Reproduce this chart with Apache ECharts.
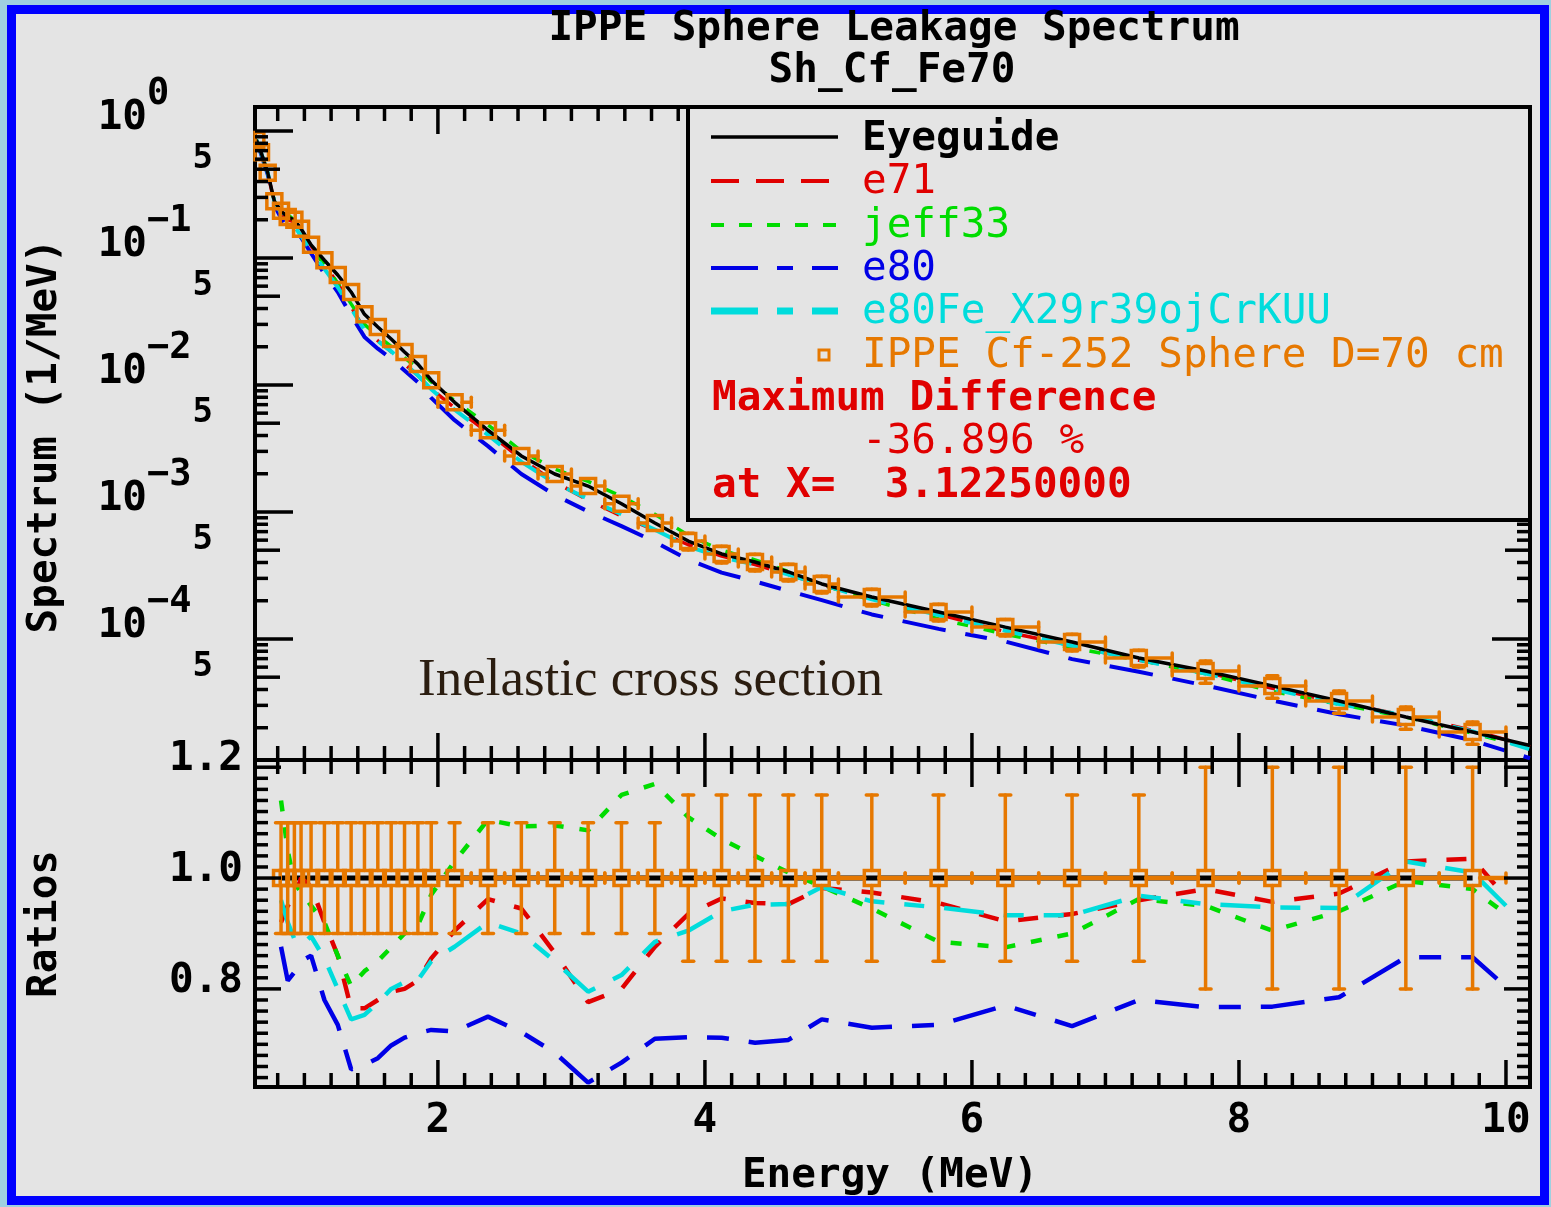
<!DOCTYPE html>
<html>
<head>
<meta charset="utf-8">
<script src="https://cdn.jsdelivr.net/npm/echarts@6/dist/echarts.min.js"></script>
<style>
html,body{margin:0;padding:0;width:1551px;height:1207px;overflow:hidden;background:#9fd0e0;}
#frame{position:absolute;left:7px;top:5px;width:1524px;height:1182px;border:9px solid #0000ff;background:#e4e4e4;}
#c{position:absolute;left:0;top:0;width:1551px;height:1207px;}
</style>
</head>
<body>
<div id="frame"></div>
<div id="c"></div>
<script>
// ---------------- data ----------------
// experimental points (IPPE Cf-252 Sphere D=70 cm)
const expE = [0.64, 0.675, 0.725, 0.775, 0.825, 0.875, 0.925, 0.975,
  1.05, 1.15, 1.25, 1.35, 1.45, 1.55, 1.65, 1.75, 1.85, 1.95,
  2.125, 2.375, 2.625, 2.875, 3.125, 3.375, 3.625, 3.875, 4.125, 4.375, 4.625, 4.875,
  5.25, 5.75, 6.25, 6.75, 7.25, 7.75, 8.25, 8.75, 9.25, 9.75];
const expV = [0.85, 0.68, 0.47, 0.28, 0.235, 0.21, 0.20, 0.17,
  0.127, 0.096, 0.0735, 0.054, 0.036, 0.0286, 0.023, 0.0182, 0.0146, 0.0109,
  0.0073, 0.0044, 0.00276, 0.00199, 0.0016, 0.00116, 0.00082, 0.00059, 0.000467, 0.000404, 0.000337, 0.000271,
  0.000214, 0.000163, 0.000124, 9.47e-5, 7.08e-5, 5.6e-5, 4.27e-5, 3.25e-5, 2.43e-5, 1.85e-5];
const expErr = [0.10, 0.10, 0.10, 0.10, 0.10, 0.10, 0.10, 0.10,
  0.10, 0.10, 0.10, 0.10, 0.10, 0.10, 0.10, 0.10, 0.10, 0.10,
  0.10, 0.10, 0.10, 0.10, 0.10, 0.10, 0.10, 0.15, 0.15, 0.15, 0.15, 0.15,
  0.15, 0.15, 0.15, 0.15, 0.15, 0.20, 0.20, 0.20, 0.20, 0.20];
const expHalfW = [0.025, 0.025, 0.025, 0.025, 0.025, 0.025, 0.025, 0.025,
  0.05, 0.05, 0.05, 0.05, 0.05, 0.05, 0.05, 0.05, 0.05, 0.05,
  0.125, 0.125, 0.125, 0.125, 0.125, 0.125, 0.125, 0.125, 0.125, 0.125, 0.125, 0.125,
  0.25, 0.25, 0.25, 0.25, 0.25, 0.25, 0.25, 0.25, 0.25, 0.25];

// calculated spectra (upper panel)
const topE = [0.64, 0.675, 0.725, 0.775, 0.825, 0.875, 0.925, 0.975,
  1.05, 1.15, 1.25, 1.35, 1.45, 1.55, 1.65, 1.75, 1.85, 1.95,
  2.125, 2.375, 2.625, 2.875, 3.125, 3.375, 3.625, 3.875, 4.125, 4.375, 4.625, 4.875,
  5.25, 5.75, 6.25, 6.75, 7.25, 7.75, 8.25, 8.75, 9.25, 9.75, 10.18];
const eyeguideTop = [0.85, 0.68, 0.47, 0.28, 0.235, 0.21, 0.20, 0.17,
  0.127, 0.096, 0.0735, 0.054, 0.036, 0.0286, 0.023, 0.0182, 0.0146, 0.0109,
  0.0073, 0.0044, 0.00276, 0.00199, 0.0016, 0.00116, 0.00082, 0.00059, 0.000467, 0.000404, 0.000337, 0.000271,
  0.000214, 0.000163, 0.000124, 9.47e-5, 7.08e-5, 5.6e-5, 4.27e-5, 3.25e-5, 2.43e-5, 1.85e-5, 1.45e-5];
const e71Top = [0.85, 0.68, 0.47, 0.27, 0.216, 0.200, 0.193, 0.170,
  0.125, 0.0883, 0.0632, 0.0413, 0.0275, 0.0223, 0.0183, 0.01456, 0.0119, 0.00932,
  0.00661, 0.00423, 0.00261, 0.00172, 0.00124, 0.000928, 0.000718, 0.000552, 0.000450, 0.000386, 0.000321, 0.000266,
  0.000208, 0.000156, 0.000114, 8.85e-5, 6.80e-5, 5.49e-5, 4.09e-5, 3.16e-5, 2.50e-5, 1.91e-5, 1.42e-5];
const jeff33Top = [0.85, 0.68, 0.47, 0.28, 0.268, 0.220, 0.198, 0.166,
  0.121, 0.0883, 0.0632, 0.0435, 0.0300, 0.0243, 0.0201, 0.0164, 0.0134, 0.01057,
  0.00752, 0.00486, 0.00302, 0.00218, 0.00174, 0.00133, 0.000959, 0.000655, 0.000500, 0.000420, 0.000340, 0.000267,
  0.000202, 0.000144, 0.000109, 8.52e-5, 6.81e-5, 5.32e-5, 3.86e-5, 3.06e-5, 2.42e-5, 1.81e-5, 1.38e-5];
const e80Top = [0.83, 0.66, 0.455, 0.26, 0.206, 0.171, 0.166, 0.145,
  0.109, 0.0749, 0.0540, 0.0354, 0.0239, 0.0193, 0.0161, 0.0130, 0.0105, 0.00791,
  0.00528, 0.00330, 0.00199, 0.00136, 0.00101, 0.000774, 0.000582, 0.000421, 0.000333, 0.000284, 0.000239, 0.000202,
  0.000156, 0.000120, 9.55e-5, 6.94e-5, 5.52e-5, 4.30e-5, 3.28e-5, 2.55e-5, 2.08e-5, 1.59e-5, 1.15e-5];
const e80FeTop = [0.85, 0.68, 0.47, 0.28, 0.226, 0.193, 0.178, 0.149,
  0.114, 0.0821, 0.0588, 0.0402, 0.0271, 0.0222, 0.0184, 0.0148, 0.0119, 0.00927,
  0.00639, 0.00405, 0.00248, 0.00169, 0.00127, 0.000957, 0.000726, 0.000534, 0.000439, 0.000385, 0.000321, 0.000267,
  0.000205, 0.000154, 0.000116, 8.84e-5, 6.85e-5, 5.34e-5, 4.04e-5, 3.07e-5, 2.50e-5, 1.87e-5, 1.35e-5];

// ratios C/E (lower panel)
const ratioE = [0.825, 0.875, 0.925, 0.975,
  1.05, 1.15, 1.25, 1.35, 1.45, 1.55, 1.65, 1.75, 1.85, 1.95,
  2.125, 2.375, 2.625, 2.875, 3.125, 3.375, 3.625, 3.875, 4.125, 4.375, 4.625, 4.875,
  5.25, 5.75, 6.25, 6.75, 7.25, 7.75, 8.25, 8.75, 9.25, 9.75, 10.0];
const e71Ratio = [0.92, 0.95, 0.965, 1.0,
  0.985, 0.92, 0.86, 0.765, 0.765, 0.78, 0.795, 0.80, 0.815, 0.855,
  0.905, 0.962, 0.945, 0.865, 0.776, 0.80, 0.876, 0.935, 0.963, 0.955, 0.953, 0.982,
  0.974, 0.955, 0.922, 0.935, 0.96, 0.98, 0.957, 0.972, 1.03, 1.035, 0.965];
const jeff33Ratio = [1.14, 1.05, 0.99, 0.975,
  0.95, 0.92, 0.86, 0.805, 0.832, 0.85, 0.875, 0.90, 0.915, 0.97,
  1.03, 1.105, 1.093, 1.095, 1.086, 1.15, 1.17, 1.11, 1.07, 1.04, 1.01, 0.985,
  0.945, 0.885, 0.875, 0.90, 0.962, 0.95, 0.905, 0.94, 0.995, 0.98, 0.935];
const e80Ratio = [0.876, 0.815, 0.83, 0.85,
  0.86, 0.78, 0.735, 0.655, 0.663, 0.675, 0.698, 0.712, 0.72, 0.726,
  0.723, 0.75, 0.722, 0.685, 0.631, 0.667, 0.71, 0.713, 0.712, 0.703, 0.708, 0.745,
  0.73, 0.735, 0.77, 0.733, 0.78, 0.767, 0.768, 0.785, 0.857, 0.857, 0.804];
const e80FeRatio = [0.96, 0.92, 0.89, 0.878,
  0.895, 0.855, 0.80, 0.745, 0.753, 0.775, 0.80, 0.812, 0.816, 0.85,
  0.876, 0.92, 0.90, 0.85, 0.795, 0.825, 0.885, 0.905, 0.94, 0.952, 0.953, 0.984,
  0.958, 0.947, 0.933, 0.933, 0.968, 0.953, 0.947, 0.946, 1.03, 1.01, 0.95];
const ratioMinE = 0.8; // ratios shown from this energy on

// axis ticks / labels
const xMajor = [2, 4, 6, 8, 10];
const xMajorLabels = ['2', '4', '6', '8', '10'];
const yTopDecades = [1e-4, 1e-3, 1e-2, 1e-1, 1];
const yTopDecadeExp = ['\u22124', '\u22123', '\u22122', '\u22121', '0'];
const yTopFives = [5e-5, 5e-4, 5e-3, 5e-2, 5e-1];
const yTopFiveLabel = '5';
const yBotMajor = [0.8, 1.0, 1.2];
const yBotMajorLabels = ['0.8', '1.0', '1.2'];

// axis ranges
const X_MIN = 0.63, X_MAX = 10.18;
const YT_MIN = 1.114e-5, YT_MAX = 1.545;
const YB_MIN = 0.623, YB_MAX = 1.213;

// ---------------- styles ----------------
const ORANGE = '#e67800', RED = '#e00000', GREEN = '#00dc00', BLUE = '#0000e6', CYAN = '#00dcdc';
const MONO = '"DejaVu Sans Mono", "Liberation Mono", monospace';

// minor tick positions
const xMinor = [];
for (let k = 4; k <= 50; k++) { if (k % 10 !== 0) xMinor.push(+(k / 5).toFixed(1)); }
const yTopMinor = [];
for (let n = -5; n <= -1; n++) {
  for (let k = 2; k <= 9; k++) {
    if (k === 5) continue;
    const v = +(k * Math.pow(10, n)).toPrecision(3);
    if (v >= YT_MIN && v <= YT_MAX) yTopMinor.push(v);
  }
}
const yBotMinor = [];
for (let k = 32; k <= 60; k++) { if (k % 10 !== 0) yBotMinor.push(+(k / 50).toFixed(2)); }

function tl(x1, y1, x2, y2) {
  return { type: 'line', shape: { x1, y1, x2, y2 }, style: { stroke: '#000', lineWidth: 3.5 } };
}
function tx(t, x, y, align, size, bold) {
  return { type: 'text', style: { text: t, x: x, y: y, fill: '#000',
    font: (bold === false ? '' : 'bold ') + size + 'px ' + MONO,
    textAlign: align, textVerticalAlign: 'middle', align: align, verticalAlign: 'middle' } };
}

const xTickData = xMinor.map(v => [v, 1, 0, -1]).concat(xMajor.map((v, i) => [v, 1, 1, i]));
function xTickSeries(g, withLabels) {
  return {
    type: 'custom', xAxisIndex: g, yAxisIndex: g, z: 6, silent: true, encode: { x: 0, y: 1 },
    data: xTickData,
    renderItem: function (params, api) {
      const cs = params.coordSys;
      const x = api.coord([api.value(0), 1])[0];
      const major = api.value(2) === 1;
      const L = major ? 27 : 14;
      const ch = [tl(x, cs.y, x, cs.y + L), tl(x, cs.y + cs.height - L, x, cs.y + cs.height)];
      if (withLabels && major) ch.push(tx(xMajorLabels[api.value(3)], x, cs.y + cs.height + 34, 'center', 41));
      return { type: 'group', children: ch };
    }
  };
}

const yTopTickData = yTopMinor.map(v => [5, v, 0, -1])
  .concat(yTopFives.map((v, i) => [5, v, 1, i]))
  .concat(yTopDecades.map((v, i) => [5, v, 2, i]));
const yTopTickSeries = {
  type: 'custom', xAxisIndex: 0, yAxisIndex: 0, z: 6, silent: true, encode: { x: 0, y: 1 },
  data: yTopTickData,
  renderItem: function (params, api) {
    const cs = params.coordSys;
    const y = api.coord([5, api.value(1)])[1];
    const kind = api.value(2);
    const L = kind === 2 ? 38 : (kind === 1 ? 25 : 13);
    const ch = [tl(cs.x, y, cs.x + L, y), tl(cs.x + cs.width - L, y, cs.x + cs.width, y)];
    if (kind === 2) {
      ch.push(tx('10', cs.x - 108, y - 13, 'right', 41));
      ch.push(tx(yTopDecadeExp[api.value(3)], cs.x - 108, y - 37, 'left', 37));
    } else if (kind === 1) {
      ch.push(tx(yTopFiveLabel, cs.x - 42, y - 10, 'right', 34));
    }
    return { type: 'group', children: ch };
  }
};

const yBotTickData = yBotMinor.map(v => [5, v, 0, -1]).concat(yBotMajor.map((v, i) => [5, v, 1, i]));
const yBotTickSeries = {
  type: 'custom', xAxisIndex: 1, yAxisIndex: 1, z: 6, silent: true, encode: { x: 0, y: 1 },
  data: yBotTickData,
  renderItem: function (params, api) {
    const cs = params.coordSys;
    const y = api.coord([5, api.value(1)])[1];
    const major = api.value(2) === 1;
    const L = major ? 26 : 13;
    const ch = [tl(cs.x, y, cs.x + L, y), tl(cs.x + cs.width - L, y, cs.x + cs.width, y)];
    if (major) ch.push(tx(yBotMajorLabels[api.value(3)], cs.x - 12, y - 8, 'right', 41));
    return { type: 'group', children: ch };
  }
};

function expRenderer(linear) {
  return function (params, api) {
    const cs = params.coordSys;
    const E = api.value(0), v = api.value(1), er = api.value(2), hw = api.value(3);
    const c = api.coord([E, v]);
    const xl = api.coord([E - hw, v])[0];
    const xr = api.coord([E + hw, v])[0];
    const yt = api.coord([E, linear ? v + er : v * (1 + er)])[1];
    const yb = api.coord([E, linear ? v - er : v * (1 - er)])[1];
    const s = 7.5, hc = 5, vc = 5.5;
    const hwid = linear ? 4.5 : 3.5;
    const ch = [];
    const seg = (x1, y1, x2, y2, w) => ch.push({ type: 'line', shape: { x1, y1, x2, y2 },
      style: { stroke: ORANGE, lineWidth: w || 3.5, lineCap: 'round' } });
    const xlc = Math.max(xl, cs.x), xrc = Math.min(xr, cs.x + cs.width);
    if (xlc < c[0] - s) { seg(xlc, c[1], c[0] - s, c[1], hwid); if (xl >= cs.x) seg(xl, c[1] - hc, xl, c[1] + hc); }
    if (xrc > c[0] + s) { seg(c[0] + s, c[1], xrc, c[1], hwid); if (xr <= cs.x + cs.width) seg(xr, c[1] - hc, xr, c[1] + hc); }
    if (yt < c[1] - s) { seg(c[0], yt, c[0], c[1] - s); seg(c[0] - vc, yt, c[0] + vc, yt); }
    if (yb > c[1] + s) { seg(c[0], c[1] + s, c[0], yb); seg(c[0] - vc, yb, c[0] + vc, yb); }
    const sx = Math.max(c[0] - s, cs.x);
    ch.push({ type: 'rect', shape: { x: sx, y: c[1] - s, width: c[0] + s - sx, height: 2 * s },
      style: { stroke: ORANGE, fill: 'none', lineWidth: 3.5 } });
    return { type: 'group', children: ch };
  };
}

function lineSeries(g, xs, ys, color, width, dash, z) {
  return {
    type: 'line', xAxisIndex: g, yAxisIndex: g, z: z || 2, silent: true,
    data: xs.map((e, i) => [e, ys[i]]), symbol: 'none', showSymbol: false,
    lineStyle: { color: color, width: width, type: dash || 'solid', cap: 'butt' }
  };
}

const DASH_RED = [20, 20], DASH_GREEN = [11, 16], DASH_BLUE = [44, 20, 22, 20], DASH_CYAN = [40, 20, 20, 20, 20, 20];

const expTopData = expE.map((e, i) => [e, expV[i], expErr[i], expHalfW[i]]);
const expRatioData = expE.map((e, i) => [e, 1, expErr[i], expHalfW[i]]).filter(d => d[0] >= ratioMinE);
const eyeRatioE = expE.filter(e => e >= ratioMinE);
const eyeRatio = eyeRatioE.map(() => 1);

// ---------------- legend / text graphics ----------------
function gLine(x1, y1, x2, y2, color, w, dash) {
  return { type: 'line', z: 101, shape: { x1, y1, x2, y2 }, style: { stroke: color, lineWidth: w, lineDash: dash || null } };
}
function gText(t, x, y, color, bold, size, align, family, rot) {
  const fam = family || MONO;
  return { type: 'text', z: 101, x: x, y: y, rotation: rot || 0,
    style: { text: t, x: 0, y: 0, fill: color, font: (bold ? 'bold ' : '') + (size || 41) + 'px ' + fam,
      textAlign: align || 'left', textVerticalAlign: 'middle', align: align || 'left', verticalAlign: 'middle' } };
}

const graphics = [
  { type: 'rect', z: 100, shape: { x: 688, y: 107, width: 842, height: 413 }, style: { fill: '#e4e4e4', stroke: '#000', lineWidth: 4 } },
  gLine(711, 137, 838, 137, '#000', 3.5),
  gText('Eyeguide', 862, 139, '#000', true),
  gLine(711, 181, 838, 181, RED, 4, [28, 17]),
  gText('e71', 862, 182, RED, false),
  gLine(711, 225, 838, 225, GREEN, 4, [13, 15]),
  gText('jeff33', 862, 226, GREEN, false),
  gLine(711, 268, 838, 268, BLUE, 4, [47, 19, 16, 19]),
  gText('e80', 862, 269, BLUE, false),
  gLine(711, 311, 838, 311, CYAN, 7, [47, 19, 16, 19]),
  gText('e80Fe_X29r39ojCrKUU', 862, 312, CYAN, false),
  { type: 'rect', z: 101, shape: { x: 819, y: 350, width: 10, height: 10 }, style: { fill: 'none', stroke: ORANGE, lineWidth: 3 } },
  gText('IPPE Cf-252 Sphere D=70 cm', 862, 356, ORANGE, false),
  gText('Maximum Difference', 712, 399, RED, true),
  gText('-36.896 %', 862, 442, RED, false),
  gText('at X=  3.12250000', 712, 486, RED, true),
  // titles
  gText('IPPE Sphere Leakage Spectrum', 894, 29, '#000', true, 41, 'center'),
  gText('Sh_Cf_Fe70', 892, 71, '#000', true, 41, 'center'),
  gText('Energy (MeV)', 890, 1176, '#000', true, 41, 'center'),
  gText('Spectrum (1/MeV)', 45, 436, '#000', true, 41, 'center', null, Math.PI / 2),
  gText('Ratios', 45, 924, '#000', true, 41, 'center', null, Math.PI / 2),
  gText('Inelastic cross section', 418, 681, '#2b1d10', false, 53, 'left', '"Liberation Serif", "DejaVu Serif", serif')
];

// ---------------- chart ----------------
const chart = echarts.init(document.getElementById('c'), null, { renderer: 'canvas' });
chart.setOption({
  animation: false,
  backgroundColor: 'transparent',
  grid: [
    { left: 255, top: 107, width: 1275, height: 653, show: true, borderColor: '#000', borderWidth: 4, backgroundColor: 'transparent' },
    { left: 255, top: 760, width: 1275, height: 327, show: true, borderColor: '#000', borderWidth: 4, backgroundColor: 'transparent' }
  ],
  xAxis: [
    { gridIndex: 0, type: 'value', min: X_MIN, max: X_MAX, show: false },
    { gridIndex: 1, type: 'value', min: X_MIN, max: X_MAX, show: false }
  ],
  yAxis: [
    { gridIndex: 0, type: 'log', logBase: 10, min: YT_MIN, max: YT_MAX, show: false },
    { gridIndex: 1, type: 'value', min: YB_MIN, max: YB_MAX, show: false }
  ],
  graphic: { elements: graphics },
  series: [
    lineSeries(0, topE, e71Top, RED, 3.5, DASH_RED),
    lineSeries(0, topE, jeff33Top, GREEN, 3.5, DASH_GREEN),
    lineSeries(0, topE, e80Top, BLUE, 4, DASH_BLUE),
    lineSeries(0, topE, e80FeTop, CYAN, 4, DASH_CYAN),
    lineSeries(0, topE, eyeguideTop, '#000', 3.5, 'solid', 3),
    { type: 'custom', xAxisIndex: 0, yAxisIndex: 0, z: 4, silent: true, encode: { x: 0, y: 1 },
      data: expTopData, renderItem: expRenderer(false) },

    lineSeries(1, eyeRatioE, eyeRatio, '#000', 5, 'solid', 2),
    lineSeries(1, ratioE, e71Ratio, RED, 4.5, DASH_RED, 3),
    lineSeries(1, ratioE, jeff33Ratio, GREEN, 4.5, DASH_GREEN, 3),
    lineSeries(1, ratioE, e80Ratio, BLUE, 4.5, DASH_BLUE, 3),
    lineSeries(1, ratioE, e80FeRatio, CYAN, 4.5, DASH_CYAN, 3),
    { type: 'custom', xAxisIndex: 1, yAxisIndex: 1, z: 4, silent: true, encode: { x: 0, y: 1 },
      data: expRatioData, renderItem: expRenderer(true) },

    xTickSeries(0, false),
    xTickSeries(1, true),
    yTopTickSeries,
    yBotTickSeries
  ]
});
</script>
</body>
</html>
